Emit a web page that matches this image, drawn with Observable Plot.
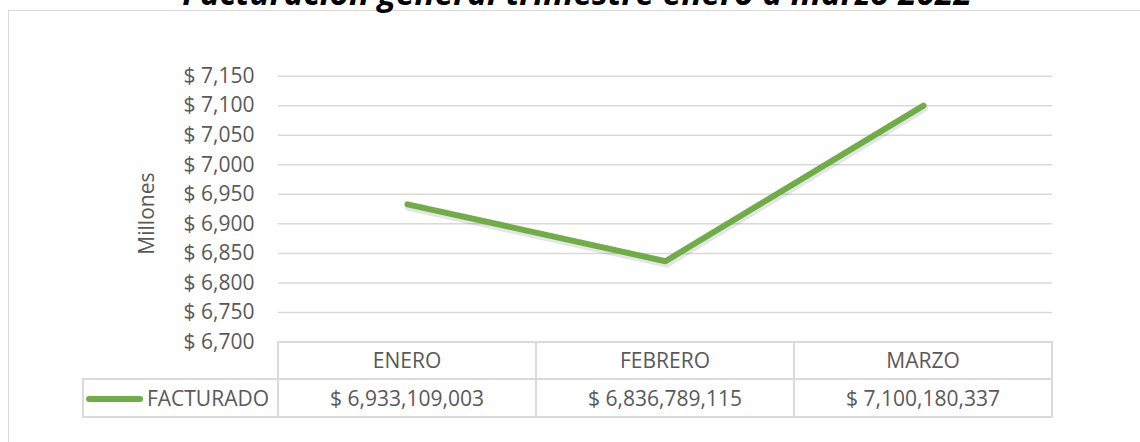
<!DOCTYPE html>
<html>
<head>
<meta charset="utf-8">
<script src="https://cdn.jsdelivr.net/npm/d3@7"></script>
<script src="https://cdn.jsdelivr.net/npm/@observablehq/plot@0.6"></script>
<style>
  html, body { margin: 0; padding: 0; background: #ffffff; }
  #wrap { position: relative; width: 1140px; height: 442px; overflow: hidden; font-family: "Open Sans", sans-serif; }
  #frame { position: absolute; left: 8px; top: 10px; width: 1160px; height: 470px; border: 1.5px solid #d9d9d9; box-sizing: border-box; }
  #chart { position: absolute; left: 0; top: 0; }
  #title { position: absolute; left: 0; width: 1154px; text-align: center; white-space: nowrap;
           font-family: "Open Sans", sans-serif; font-style: italic; font-weight: 700; color: #000; line-height: 1; margin: 0; }
  #datatable { position: absolute; border-collapse: collapse; table-layout: fixed; font-family: "Open Sans", sans-serif;
               font-size: 21px; color: #595959; }
  #datatable td { border: 2px solid #dadada; padding: 0; text-align: center; vertical-align: middle; white-space: nowrap; }
  #datatable td.blank { border: none; }
  #datatable td.legend { text-align: right; padding-right: 8px; }
  .swatch { display: inline-block; width: 57px; height: 6px; border-radius: 3px; vertical-align: middle; margin-right: 4px; position: relative; top: -1px; }
</style>
</head>
<body>
<div id="wrap">
  <div id="frame"></div>
  <div id="chart"></div>
  <div id="title"></div>
</div>
<script>
// ---- data ----
const titleText = "Facturación general trimestre enero a marzo 2022";
const months = ["ENERO", "FEBRERO", "MARZO"];
const seriesName = "FACTURADO";
const values = [6933109003, 6836789115, 7100180337];
const yTicks = [6700, 6750, 6800, 6850, 6900, 6950, 7000, 7050, 7100, 7150];
const yLabel = "Millones";
const lineColor = "#70AD47";

const data = months.map((m, i) => ({ month: m, value: values[i] / 1e6 }));
const fmtMoney = d3.format(",");

const chart = Plot.plot({
  width: 1140,
  height: 442,
  marginLeft: 278,
  marginRight: 88,
  marginTop: 75.7,
  marginBottom: 100.5,
  style: { fontFamily: '"Open Sans", sans-serif', fontSize: "21px", color: "#595959", background: "transparent", overflow: "visible" },
  x: { type: "band", domain: months, padding: 0, axis: null },
  y: { domain: [yTicks[0], yTicks[yTicks.length - 1]] },
  marks: [
    Plot.gridY(yTicks, { stroke: "#d9d9d9", strokeOpacity: 1, strokeWidth: 1.5 }),
    Plot.axisY(yTicks, { tickSize: 0, tickPadding: 24, tickFormat: d => "$ " + fmtMoney(d), label: null, fill: "#595959" }),
    Plot.text([yLabel], { text: d => d, frameAnchor: "left", textAnchor: "middle", lineAnchor: "middle", rotate: -90, dx: -131.5, dy: 4.5, fill: "#595959", fontSize: 21 }),
    Plot.line(data, { x: "month", y: "value", stroke: "#000", strokeOpacity: 0.1, strokeWidth: 7, dx: 1, dy: 3, strokeLinecap: "round", strokeLinejoin: "round" }),
    Plot.line(data, { x: "month", y: "value", stroke: lineColor, strokeWidth: 6, strokeLinecap: "round", strokeLinejoin: "round" })
  ]
});
document.getElementById("chart").appendChild(chart);

// ---- title (partially cut at top, as in the reference) ----
const title = document.getElementById("title");
title.textContent = titleText;
const ctx = document.createElement("canvas").getContext("2d");
ctx.font = 'italic 700 100px "Open Sans"';
const w100 = ctx.measureText(titleText).width || 2900;
const titleSize = 100 * 790 / w100;
title.style.fontSize = titleSize + "px";
title.style.top = (6 - 0.888 * titleSize) + "px";

// ---- data table below the plot ----
const xs = chart.scale("x");
const bw = xs.bandwidth;
const x0 = xs.apply(months[0]);
const tableLeft = 83;
const rowH = 37.5;
const yBottom = chart.scale("y").apply(yTicks[0]);

const table = document.createElement("table");
table.id = "datatable";
table.style.left = (tableLeft - 1) + "px";
table.style.top = (yBottom - 1) + "px";
const colgroup = document.createElement("colgroup");
const c0 = document.createElement("col"); c0.style.width = (x0 - tableLeft) + "px"; colgroup.appendChild(c0);
months.forEach(() => { const c = document.createElement("col"); c.style.width = bw + "px"; colgroup.appendChild(c); });
table.appendChild(colgroup);

const r1 = document.createElement("tr"); r1.style.height = rowH + "px";
const blank = document.createElement("td"); blank.className = "blank"; r1.appendChild(blank);
months.forEach(m => { const td = document.createElement("td"); td.textContent = m; r1.appendChild(td); });
table.appendChild(r1);

const r2 = document.createElement("tr"); r2.style.height = rowH + "px";
const lg = document.createElement("td"); lg.className = "legend";
const sw = document.createElement("span"); sw.className = "swatch"; sw.style.background = lineColor;
lg.appendChild(sw); lg.appendChild(document.createTextNode(seriesName));
r2.appendChild(lg);
values.forEach(v => { const td = document.createElement("td"); td.textContent = "$ " + fmtMoney(v); r2.appendChild(td); });
table.appendChild(r2);

document.getElementById("wrap").appendChild(table);
</script>
</body>
</html>
